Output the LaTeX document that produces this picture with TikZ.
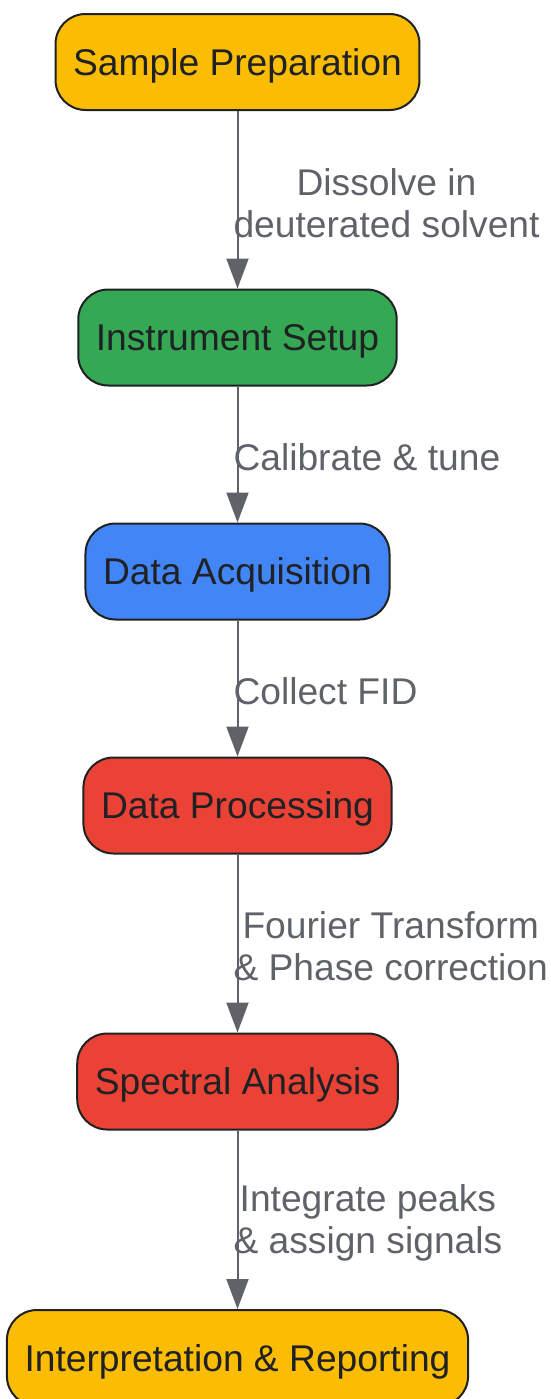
\documentclass[tikz,border=0pt]{standalone}
\usepackage{fontspec}
\setmainfont{Liberation Sans}
\usetikzlibrary{arrows.meta}
\usetikzlibrary{shapes.geometric,calc}

\definecolor{gyellow}{HTML}{FBBC04}
\definecolor{ggreen}{HTML}{34A853}
\definecolor{gblue}{HTML}{4285F4}
\definecolor{gred}{HTML}{EA4335}
\definecolor{ink}{HTML}{202124}
\definecolor{wire}{HTML}{5F6368}

\tikzset{
	stage/.style={draw=ink, line width=1pt, rounded corners=15pt, minimum height=48pt, inner xsep=8.8pt, text height=13.3pt, text depth=0pt, text=ink, font=\fontsize{18.6}{21}\selectfont},
	flow/.style={draw=wire, line width=1pt, -{Triangle[width=11pt,length=15pt]}},
	flowtext/.style={midway, anchor=west, inner sep=0pt, xshift=-2.5pt, yshift=-1.5pt, align=center, text=wire, font=\fontsize{18.6}{21}\selectfont}
}

\begin{document}
\begin{tikzpicture}[x=0.5pt, y=-0.5pt]
	\useasboundingbox (0, 0) rectangle (551, 1399);
	%\draw[help lines] (0,0) grid (551,1399);
	\node[stage, fill=gyellow] (prep) at (237.5, 62) {Sample Preparation};
	\node[stage, fill=ggreen] (setup) at (237.5, 337.5) {Instrument Setup};
	\node[stage, fill=gblue] (acq) at (237.5, 571.5) {Data Acquisition};
	\node[stage, fill=gred] (proc) at (237.5, 805.5) {Data Processing};
	\node[stage, fill=gred] (spec) at (237.5, 1081.5) {Spectral Analysis};
	\node[stage, fill=gyellow] (report) at (237.5, 1358) {Interpretation \& Reporting};

	\draw[flow] (prep) -- (setup) node[flowtext]{Dissolve in\\deuterated solvent};
	\draw[flow] (setup) -- (acq) node[flowtext]{Calibrate \& tune};
	\draw[flow] (acq) -- (proc) node[flowtext]{Collect FID};
	\draw[flow] (proc) -- (spec) node[flowtext]{Fourier Transform\\\& Phase correction};
	\draw[flow] (spec) -- (report) node[flowtext]{Integrate peaks\\\& assign signals};
\end{tikzpicture}
\end{document}
